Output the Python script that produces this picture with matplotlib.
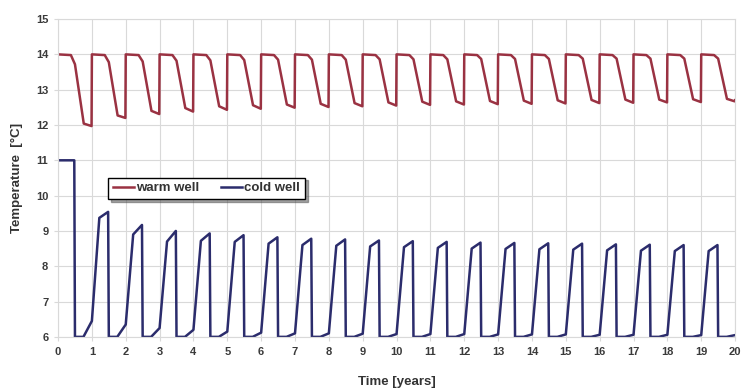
import numpy as np
import matplotlib
matplotlib.use("Agg")
import matplotlib.pyplot as plt

plt.rcParams['font.family'] = ['Liberation Sans', 'DejaVu Sans']

# ---- values, one entry per yearly cycle ----
years = list(range(20))

# warm well: plateau 14 °C, shoulder, then cooling to a trough that slowly rises
warm_top = 14.0
warm_shoulder = [13.72, 13.78, 13.8, 13.82, 13.83, 13.84, 13.85, 13.85, 13.85, 13.86,
                 13.86, 13.86, 13.87, 13.87, 13.87, 13.88, 13.88, 13.88, 13.88, 13.88]
warm_low1 = [12.04, 12.27, 12.4, 12.48, 12.53, 12.56, 12.58, 12.6, 12.62, 12.64,
             12.66, 12.67, 12.68, 12.69, 12.7, 12.71, 12.72, 12.72, 12.73, 12.74]
warm_low2 = [11.97, 12.2, 12.31, 12.38, 12.43, 12.46, 12.49, 12.51, 12.53, 12.55,
             12.57, 12.58, 12.59, 12.6, 12.61, 12.62, 12.63, 12.64, 12.65, 12.67]

# cold well: starts at 11 °C, then yearly charge peaks
cold_start = 11.0
cold_low = 6.0
cold_base = [6.45, 6.35, 6.25, 6.2, 6.15, 6.12, 6.1, 6.1, 6.09, 6.08,
             6.08, 6.08, 6.07, 6.07, 6.07, 6.06, 6.06, 6.06, 6.05, 6.05]
cold_shoulder = [9.37, 8.9, 8.7, 8.72, 8.69, 8.64, 8.6, 8.58, 8.56, 8.54,
                 8.52, 8.5, 8.49, 8.48, 8.47, 8.45, 8.44, 8.43, 8.43]
cold_peak = [9.54, 9.17, 9.0, 8.93, 8.88, 8.82, 8.78, 8.76, 8.73, 8.71,
             8.69, 8.67, 8.66, 8.65, 8.64, 8.62, 8.61, 8.6, 8.6]

# ---- assemble the time series ----
wt, wT = [], []
for n in years:
    wt += [n, n + 0.38, n + 0.5, n + 0.76, n + 0.99]
    wT += [warm_top, warm_top - 0.02, warm_shoulder[n], warm_low1[n], warm_low2[n]]
wt.append(20)
wT.append(warm_low2[-1] + 0.03)

ct = [0, 0.48, 0.5, 0.75]
cT = [cold_start, cold_start, cold_low, cold_low]
for i, n in enumerate(range(1, 20)):
    ct += [n, n + 0.22, n + 0.48, n + 0.5, n + 0.75]
    cT += [cold_base[i], cold_shoulder[i], cold_peak[i], cold_low, cold_low]
ct.append(20)
cT.append(cold_base[-1])

fig = plt.figure(figsize=(7.44, 3.89), dpi=100)
ax = fig.add_axes([0.078, 0.134, 0.910, 0.817])

ax.plot(wt, wT, color='#9a3242', lw=1.8, label='warm well', solid_joinstyle='round')
ax.plot(ct, cT, color='#2b2c6c', lw=1.8, label='cold well', solid_joinstyle='round')

ax.set_xlim(0, 20)
ax.set_ylim(6, 15)
ax.set_xticks(range(0, 21))
ax.set_yticks(range(6, 16))
ax.grid(True, color='#d9d9d9', lw=0.8)
ax.set_axisbelow(True)
for s in ax.spines.values():
    s.set_color('#d9d9d9')
    s.set_linewidth(0.8)
ax.tick_params(length=3, color='#d9d9d9', labelsize=8, labelcolor='#3a3a3a', pad=4)
for lab in ax.get_xticklabels() + ax.get_yticklabels():
    lab.set_fontweight('bold')

ax.set_xlabel('Time [years]', fontsize=9.5, fontweight='bold', color='#333333', labelpad=14)
ax.set_ylabel('Temperature  [°C]', fontsize=9.5, fontweight='bold', color='#333333', labelpad=9)

leg = ax.legend(loc='upper left', bbox_to_anchor=(0.064, 0.522), ncol=2, fontsize=9.5,
                frameon=True, fancybox=False, shadow=True, edgecolor='black',
                handlelength=1.6, columnspacing=1.7, borderpad=0.35, handletextpad=0.15)
leg.get_frame().set_linewidth(1.0)
for t in leg.get_texts():
    t.set_fontweight('bold')
    t.set_color('#333333')

fig.savefig('out.png', dpi=100)
